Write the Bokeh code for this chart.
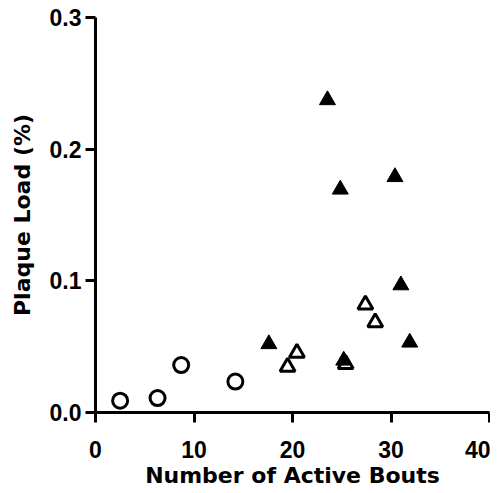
from bokeh.plotting import figure
from bokeh.models import Range1d, FixedTicker
from bokeh.embed import file_html
from bokeh.resources import INLINE

# Data
circle_x = [2.5, 6.3, 8.7, 14.2]
circle_y = [0.009, 0.011, 0.036, 0.0235]

open_tri_x = [19.5, 20.45, 25.4, 27.4, 28.4]
open_tri_y = [0.0346, 0.0453, 0.0367, 0.0819, 0.0684]

filled_tri_x = [17.6, 23.55, 24.85, 25.2, 30.4, 31.0, 31.9]
filled_tri_y = [0.052, 0.2373, 0.1694, 0.0395, 0.1789, 0.0967, 0.0532]

x_ticks = [0, 10, 20, 30, 40]
y_ticks = [0.0, 0.1, 0.2, 0.3]
y_tick_labels = {0.0: "0.0", 0.1: "0.1", 0.2: "0.2", 0.3: "0.3"}

x_title = "Number of Active Bouts"
y_title = "Plaque Load (%)"

p = figure(width=490, height=493, output_backend="svg", toolbar_location=None,
           x_range=Range1d(0, 40), y_range=Range1d(0, 0.3),
           min_border_left=95, min_border_right=1, min_border_top=17, min_border_bottom=81)
p.outline_line_color = None
p.xgrid.visible = False
p.ygrid.visible = False

p.scatter(circle_x, circle_y, marker="circle", size=15, fill_color="white",
          line_color="black", line_width=3)
p.scatter(open_tri_x, open_tri_y, marker="triangle", size=15, fill_color="white",
          line_color="black", line_width=3)
p.scatter(filled_tri_x, filled_tri_y, marker="triangle", size=16, fill_color="black",
          line_color="black", line_width=1)

for ax in (p.xaxis[0], p.yaxis[0]):
    ax.axis_line_width = 3
    ax.axis_line_color = "black"
    ax.major_tick_line_width = 3
    ax.major_tick_line_color = "black"
    ax.major_tick_in = 0
    ax.major_tick_out = 10
    ax.minor_tick_line_color = None
    ax.major_label_text_font = "Liberation Sans"
    ax.major_label_text_font_style = "bold"
    ax.major_label_text_font_size = "23px"
    ax.major_label_text_color = "black"
    ax.axis_label_text_font = "DejaVu Sans"
    ax.axis_label_text_font_style = "bold"
    ax.axis_label_text_font_size = "22px"
    ax.axis_label_text_color = "black"

p.xaxis.ticker = FixedTicker(ticks=x_ticks)
p.yaxis.ticker = FixedTicker(ticks=y_ticks)
p.yaxis.major_label_overrides = y_tick_labels
p.xaxis.axis_label = x_title
p.yaxis.axis_label = y_title
p.xaxis.major_label_standoff = 18
p.yaxis.major_label_standoff = 4
p.xaxis.axis_label_standoff = 2
p.yaxis.axis_label_standoff = 12

open("out.html", "w").write(file_html(p, INLINE))
